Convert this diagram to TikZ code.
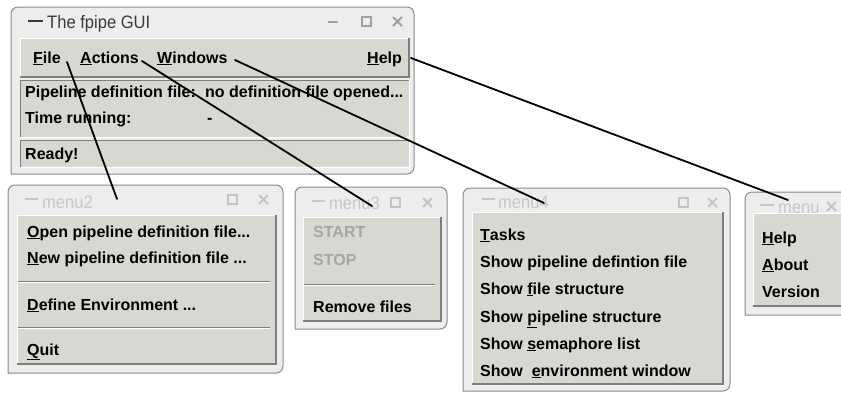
\documentclass[tikz,border=0pt]{standalone}
\usepackage{fontspec}
\setmainfont{Liberation Sans}
\newfontfamily\titlefont[FakeStretch=0.92]{Liberation Sans}
\definecolor{panelbg}{HTML}{D6D8D2}
\definecolor{winbg}{HTML}{EDEDED}
\definecolor{frmgray}{HTML}{8A8A8A}
\definecolor{shadowgray}{HTML}{7E7E7E}
\definecolor{dimtext}{HTML}{A6A6A6}
\definecolor{menutitle}{HTML}{CCC4C6}
\definecolor{titledark}{HTML}{3A3A3A}
\definecolor{btngray}{HTML}{A0A0A0}
\definecolor{btnlight}{HTML}{C4C4C4}
\newcommand\guiwin[4]{\draw[draw=frmgray,fill=winbg,line width=1pt] (#1,#4) [rounded corners=7pt] -- (#1,#2) -- (#3,#2) -- (#3,#4) [sharp corners] -- cycle;}
\newcommand\raisedpanel[4]{\fill[panelbg] (#1,#2) rectangle (#3,#4);
  \draw[white,line width=1pt] (#1+0.5,#4) -- (#1+0.5,#2+0.5) -- (#3,#2+0.5);
  \draw[shadowgray,line width=2pt] (#1,#4-1) -- (#3-1,#4-1) -- (#3-1,#2);}
\newcommand\sunkenpanel[4]{\fill[panelbg] (#1,#2) rectangle (#3,#4);
  \draw[shadowgray,line width=1pt] (#1+0.5,#4) -- (#1+0.5,#2+0.5) -- (#3,#2+0.5);
  \draw[white,line width=1pt] (#1,#4-0.5) -- (#3-0.5,#4-0.5) -- (#3-0.5,#2);}
\newcommand\sepline[3]{\draw[shadowgray,line width=1pt] (#1,#3) -- (#2,#3);\draw[white,line width=1pt] (#1,#3+1) -- (#2,#3+1);}
\newcommand\sqbtn[3]{\draw[#3,line width=1.2pt] (#1,#2) rectangle ++(9,9);}
\newcommand\xbtn[3]{\draw[#3,line width=1.8pt] (#1,#2) -- ++(9,9) (#1+9,#2) -- ++(-9,9);}
\newcommand\minbtn[3]{\draw[#3,line width=1.8pt] (#1,#2) -- ++(10,0);}
\newcommand\ttldash[4]{\draw[#4,line width=1.8pt] (#1,#3) -- (#2,#3);}
\begin{document}
\begin{tikzpicture}[x=1pt,y=-1pt,
  item/.style={anchor=base west,inner sep=0pt,font=\fontsize{16}{16}\selectfont\bfseries},
  dim/.style={item,text=dimtext},
  ttl/.style={anchor=base west,inner sep=0pt,font=\titlefont\fontsize{18}{18}\selectfont,text=menutitle},
  link/.style={line width=1.8pt,line cap=round}]
\clip (0,0) rectangle (841,392);
\fill[white] (0,0) rectangle (841,392);
% ---------- main window
\guiwin{11}{7}{414}{174}
\ttldash{28}{43}{21}{titledark}
\node[ttl,text=titledark] (mtitle) at (47,28) {The fpipe GUI};
\minbtn{328}{22}{btngray}
\sqbtn{362}{17}{btngray}
\xbtn{393}{17}{btngray}
\raisedpanel{20}{38}{410}{78}
\sunkenpanel{20}{80}{410}{138}
\sunkenpanel{20}{140}{410}{168}
\node[item] (mfile) at (33,63) {\underline{F}ile};
\node[item] (mact) at (80,63) {\underline{A}ctions};
\node[item] (mwin) at (157,63) {\underline{W}indows};
\node[item] (mhelp) at (367,63) {\underline{H}elp};
\node[item] (pdf) at (25,97) {Pipeline definition file:};
\node[item] (pdfv) at (205,97) {no definition file opened...};
\node[item] (trun) at (25,123) {Time running:};
\node[item] (trunv) at (207,123) {-};
\node[item] (ready) at (25,159) {Ready!};
% ---------- menu2
\guiwin{8}{185}{283}{373}
\ttldash{25}{38}{199}{menutitle}
\node[ttl] (t2) at (42,208) {menu2};
\sqbtn{228}{195}{btnlight}
\xbtn{259}{195}{btnlight}
\raisedpanel{17}{215}{277}{365}
\node[item] (m2a) at (27,237) {\underline{O}pen pipeline definition file...};
\node[item] (m2b) at (27,263) {\underline{N}ew pipeline definition file ...};
\sepline{18}{270}{281}
\node[item] (m2c) at (27,310) {\underline{D}efine Environment ...};
\sepline{18}{270}{327}
\node[item] (m2d) at (27,355) {\underline{Q}uit};
% ---------- menu3
\guiwin{295}{187}{447}{329}
\ttldash{312}{325}{201}{menutitle}
\node[ttl] (t3) at (329,209) {menu3};
\sqbtn{391}{198}{btnlight}
\xbtn{423}{198}{btnlight}
\raisedpanel{303}{217}{442}{322}
\node[dim] (m3a) at (313,237) {START};
\node[dim] (m3b) at (313,265) {STOP};
\sepline{304}{435}{284}
\node[item] (m3c) at (313,312) {Remove files};
% ---------- menu4
\guiwin{463}{188}{730}{391}
\ttldash{482}{495}{199}{menutitle}
\node[ttl] (t4) at (498,208) {menu4};
\sqbtn{679}{198}{btnlight}
\xbtn{708}{198}{btnlight}
\raisedpanel{472}{212}{724}{385}
\node[item] (m4a) at (480,240) {\underline{T}asks};
\node[item] (m4b) at (480,267) {Show pipeline defintion file};
\node[item] (m4c) at (480,294) {Show \underline{f}ile structure};
\node[item] (m4d) at (480,322) {Show \underline{p}ipeline structure};
\node[item] (m4e) at (480,349) {Show \underline{s}emaphore list};
\node[item] (m4f) at (480,376) {Show\ \ \underline{e}nvironment window};
% ---------- help menu
\guiwin{745}{192}{860}{315}
\ttldash{760}{774}{205}{menutitle}
\node[ttl] (t5) at (778,213) {menu};
\xbtn{827}{202}{btnlight}
\raisedpanel{753}{213}{860}{307}
\node[item] (m5a) at (762,243) {\underline{H}elp};
\node[item] (m5b) at (762,270) {\underline{A}bout};
\node[item] (m5c) at (762,297) {Version};
% ---------- connectors
\coordinate (fs) at (67,62);  \coordinate (fe) at (117,199);
\coordinate (as) at (142,61); \coordinate (ae) at (372,206);
\coordinate (ws) at (235,60); \coordinate (we) at (544,203);
\coordinate (hs) at (411,58); \coordinate (he) at (788,200);
\draw[link] (fs) -- (fe);
\draw[link] (as) -- (ae);
\draw[link] (ws) -- (we);
\draw[link] (hs) -- (he);
\end{tikzpicture}
\end{document}
